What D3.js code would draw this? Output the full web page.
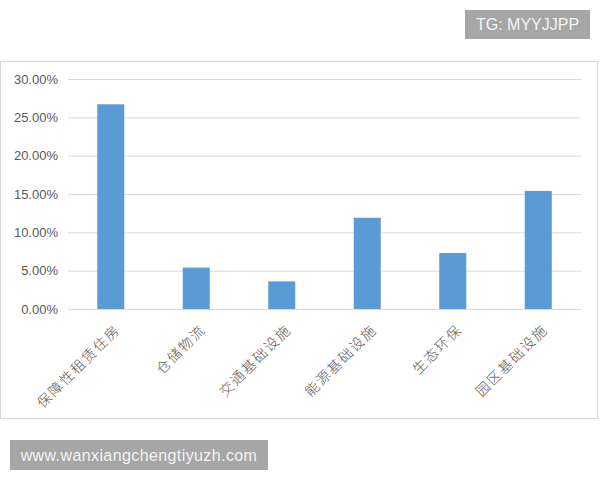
<!DOCTYPE html>
<html>
<head>
<meta charset="utf-8">
<script src="https://d3js.org/d3.v7.min.js"></script>
<style>
  body { margin: 0; background: #fff; }
  svg { display: block; }
</style>
</head>
<body>
<script>
// data
var categories = ["保障性租赁住房", "仓储物流", "交通基础设施", "能源基础设施", "生态环保", "园区基础设施"];
var shares = [0.267, 0.054, 0.036, 0.119, 0.073, 0.154];
var yTicks = [0, 0.05, 0.10, 0.15, 0.20, 0.25, 0.30];

var width = 600, height = 480;
var plot = {left: 68, right: 581, top: 79, bottom: 309};

var svg = d3.select("body").append("svg")
    .attr("width", width)
    .attr("height", height);

// chart frame
svg.append("rect")
    .attr("x", 0.5)
    .attr("y", 61.5)
    .attr("width", 597)
    .attr("height", 357)
    .style("fill", "#fff")
    .style("stroke", "#d9d9d9")
    .style("stroke-width", 1);

var x = d3.scaleBand()
    .domain(categories)
    .range([plot.left, plot.right])
    .paddingInner(0.684)
    .paddingOuter(0.342);

var y = d3.scaleLinear()
    .domain([0, 0.30])
    .range([plot.bottom, plot.top]);

// gridlines + y labels
var yAxis = d3.axisLeft(y)
    .tickValues(yTicks)
    .tickFormat(d3.format(".2%"))
    .tickSize(-(plot.right - plot.left))
    .tickPadding(10);

var gy = svg.append("g")
    .attr("transform", "translate(" + plot.left + ",0)")
    .call(yAxis);
gy.select(".domain").remove();
gy.selectAll(".tick line")
    .style("stroke", "#d9d9d9")
    .style("stroke-width", 1);
gy.selectAll(".tick text")
    .style("fill", "#595959")
    .style("font-family", "'Liberation Sans', Arial, sans-serif")
    .style("font-size", "13px");

// bars
svg.selectAll(".bar")
    .data(categories)
    .enter().append("rect")
    .attr("class", "bar")
    .attr("x", function(d) { return x(d); })
    .attr("width", x.bandwidth())
    .attr("y", function(d, i) { return y(shares[i]); })
    .attr("height", function(d, i) { return y(0) - y(shares[i]); })
    .style("fill", "#5b9bd5");

// category labels, rotated
svg.selectAll(".cat")
    .data(categories)
    .enter().append("text")
    .attr("class", "cat")
    .attr("transform", function(d) {
        return "translate(" + (x(d) + x.bandwidth() / 2 + 7) + "," + (plot.bottom + 18) + ") rotate(-45)";
    })
    .attr("text-anchor", "end")
    .attr("dy", "0.35em")
    .style("fill", "#595959")
    .style("font-family", "'Noto Sans CJK SC', sans-serif")
    .style("font-weight", 300)
    .style("font-size", "14px")
    .style("letter-spacing", "1.8px")
    .text(function(d) { return d; });

// watermark boxes
function badge(bx, by, bw, bh, label, fs, ls) {
    svg.append("rect")
        .attr("x", bx).attr("y", by)
        .attr("width", bw).attr("height", bh)
        .style("fill", "#a6a6a6");
    svg.append("text")
        .attr("x", bx + bw / 2)
        .attr("y", by + bh / 2)
        .attr("dy", "0.35em")
        .attr("text-anchor", "middle")
        .style("fill", "#f4f4f4")
        .style("font-family", "'Liberation Sans', Arial, sans-serif")
        .style("font-size", fs)
        .style("letter-spacing", ls)
        .text(label);
}
badge(465, 10, 125, 29, "TG: MYYJJPP", "16px", "0px");
badge(10, 440, 258, 30, "www.wanxiangchengtiyuzh.com", "16px", "0.4px");
</script>
</body>
</html>
